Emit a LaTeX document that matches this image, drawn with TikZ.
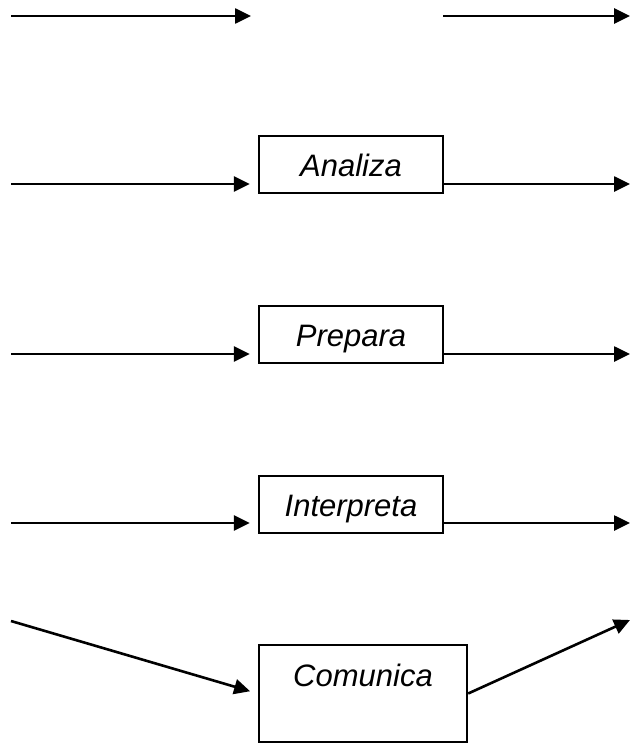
\documentclass[tikz,border=0pt]{standalone}
\usepackage{fontspec}
\setmainfont{Liberation Sans}
\usetikzlibrary{arrows.meta}

\tikzset{
  flow/.style={line width=2.6pt, -{Triangle[length=16pt,width=15pt]}},
  stagebox/.style={draw, line width=2.4pt, inner sep=0pt,
    minimum width=184pt, minimum height=57pt,
    text height=23pt, text depth=0pt,
    font=\fontsize{31}{37}\selectfont\itshape},
}

\begin{document}
\begin{tikzpicture}[x=1pt,y=-1pt]
  \useasboundingbox (0,0) rectangle (630,744);

  % first row: arrows only
  \coordinate (t-in)   at (11,16);
  \coordinate (t-gapL) at (251,16);
  \coordinate (t-gapR) at (443,16);
  \coordinate (t-out)  at (630,16);
  \draw[flow] (t-in) -- (t-gapL);
  \draw[flow] (t-gapR) -- (t-out);

  % stages
  \node[stagebox] (ana) at (351,164.5) {Analiza};
  \node[stagebox] (pre) at (351,334.5) {Prepara};
  \node[stagebox] (int) at (351,504.5) {Interpreta};
  \node[stagebox, minimum width=208pt, minimum height=97pt, text depth=37pt]
       (com) at (363,693.5) {Comunica};

  % horizontal inputs and outputs
  \coordinate (a-in)  at (11,184);
  \coordinate (a-out) at (630,184);
  \coordinate (p-in)  at (11,354);
  \coordinate (p-out) at (630,354);
  \coordinate (i-in)  at (11,523);
  \coordinate (i-out) at (630,523);

  \draw[flow, shorten >=8pt] (a-in) -- (ana.west |- a-in);
  \draw[flow] (ana.east |- a-out) -- (a-out);
  \draw[flow, shorten >=8pt] (p-in) -- (pre.west |- p-in);
  \draw[flow] (pre.east |- p-out) -- (p-out);
  \draw[flow, shorten >=8pt] (i-in) -- (int.west |- i-in);
  \draw[flow] (int.east |- i-out) -- (i-out);

  % slanted input and output of the last stage
  \coordinate (c-in)  at (11,621);
  \coordinate (c-out) at (630,620);
  \draw[flow, shorten >=8pt] (c-in) -- (com.west);
  \draw[flow] (com.east) -- (c-out);
\end{tikzpicture}
\end{document}
